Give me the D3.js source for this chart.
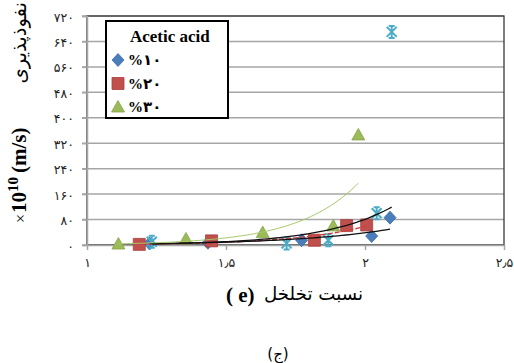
<!DOCTYPE html>
<html><head><meta charset="utf-8">
<script src="https://cdn.jsdelivr.net/npm/d3@7"></script>
<style>body{margin:0;background:#fff}svg{display:block}</style>
</head><body>
<svg id="chart" width="514" height="363"></svg>
<script>
// ---- data ----
const xTicks = [1, 1.5, 2, 2.5];
const xTickLabels = ["۱", "۱٫۵", "۲", "۲٫۵"];
const yTicks = [0, 80, 160, 240, 320, 400, 480, 560, 640, 720];
const yTickLabels = ["۰", "۸۰", "۱۶۰", "۲۴۰", "۳۲۰", "۴۰۰", "۴۸۰", "۵۶۰", "۶۴۰", "۷۲۰"];
const legendTitle = "Acetic acid";
const seriesLabels = ["%۱۰", "%۲۰", "%۳۰"];
const e10 = [1.225, 1.435, 1.772, 2.024, 2.09];
const k10 = [5, 7, 15, 28, 86];
const e20 = [1.188, 1.448, 1.818, 1.934, 2.006];
const k20 = [2, 13, 15, 61, 63];
const e30 = [1.113, 1.356, 1.632, 1.886, 1.976];
const k30 = [3, 19, 39, 60, 346];
const eX = [1.233, 1.718, 1.868, 2.042, 2.096];
const kX = [10, 5, 15, 100, 670];
const xTitleFa = "نسبت تخلخل";
const xTitleEn = "( e)";
const yTitleFa = "نفوذپذیری";
const caption = "(ج)";

// ---- chart ----
const svg = d3.select("#chart");
const x = d3.scaleLinear().domain([1, 2.5]).range([87, 504]);
const y = d3.scaleLinear().domain([0, 720]).range([245, 16]);

// gridlines
svg.append("g").selectAll("line").data(yTicks).join("line")
  .attr("x1", 82).attr("x2", 504)
  .attr("y1", d => y(d)).attr("y2", d => y(d))
  .attr("stroke", "#a6a6a6").attr("stroke-width", 1.5);

// plot border
svg.append("rect").attr("x", 87).attr("y", 16).attr("width", 417).attr("height", 229)
  .attr("fill", "none").attr("stroke", "#3a3a3a").attr("stroke-width", 1.3);

// axes
const yAxis = d3.axisLeft(y).tickValues(yTicks).tickSize(5).tickFormat((d, i) => yTickLabels[i]);
const gy = svg.append("g").attr("transform", "translate(87,0)").call(yAxis);
gy.select(".domain").attr("stroke", "#a6a6a6").attr("stroke-width", 1.5);
gy.selectAll(".tick line").attr("stroke", "#a6a6a6").attr("stroke-width", 1.5);
gy.selectAll(".tick text").attr("font-family", "DejaVu Sans").attr("font-size", 12.5)
  .attr("fill", "#222").attr("x", -13).attr("dy", "0.4em");

const xAxis = d3.axisBottom(x).tickValues(xTicks).tickSize(5).tickSizeOuter(0).tickFormat((d, i) => xTickLabels[i]);
const gx = svg.append("g").attr("transform", "translate(0,245)").call(xAxis);
gx.select(".domain").attr("stroke", "#a6a6a6").attr("stroke-width", 1.5);
gx.selectAll(".tick line").attr("stroke", "#a6a6a6").attr("stroke-width", 1.5);
gx.selectAll(".tick text").attr("font-family", "DejaVu Sans").attr("font-size", 12.5)
  .attr("fill", "#222").attr("y", 13).attr("dy", "0.7em");

// markers
const diamond = "M0,-6.5L6,0L0,6.5L-6,0Z";
const square = "M-6,-6H6V6H-6Z";
const triangle = "M0,-6.5L6.5,5L-6.5,5Z";
const star = "M-5,-5L5,5M-5,5L5,-5M0,-6L0,6M-3,-6L3,-6M-3,6L3,6";

const series = [
  {e: e10, k: k10, path: diamond, fill: "#4a7ebb", stroke: "#3d6ba3", trend: "#111", tw: 1.3, dash: null},
  {e: e20, k: k20, path: square, fill: "#c0504d", stroke: "#a8403d", trend: "#d04040", tw: 1.4, dash: "5,2"},
  {e: e30, k: k30, path: triangle, fill: "#9bbb59", stroke: "#86a548", trend: "#a8c86a", tw: 1, dash: null},
  {e: eX, k: kX, path: star, fill: "none", stroke: "#4bacc6", trend: "#111", tw: 1.3, dash: null, isStar: true}
];

series.forEach(s => {
  const pts = s.e.map((v, i) => [v, s.k[i]]);
  svg.append("g").selectAll("path").data(pts).join("path")
    .attr("transform", d => `translate(${x(d[0])},${y(d[1])})`)
    .attr("d", s.path)
    .attr("fill", s.fill)
    .attr("stroke", s.stroke)
    .attr("stroke-width", s.isStar ? 2 : 0.8);
});

// exponential trendlines (least squares on ln k, as Excel does)
function expFit(xs, ys) {
  const ly = ys.map(Math.log);
  const mx = d3.mean(xs), my = d3.mean(ly);
  let sxy = 0, sxx = 0;
  xs.forEach((v, i) => { sxy += (v - mx) * (ly[i] - my); sxx += (v - mx) * (v - mx); });
  const b = sxy / sxx, a = Math.exp(my - b * mx);
  return t => a * Math.exp(b * t);
}
const line = d3.line().x(d => x(d[0])).y(d => y(d[1]));
[series[1], series[0], series[3], series[2]].forEach(s => {
  const f = expFit(s.e, s.k);
  const [lo, hi] = d3.extent(s.e);
  const samples = d3.range(0, 61).map(i => lo + (hi - lo) * i / 60).map(t => [t, f(t)]);
  svg.append("path").attr("d", line(samples)).attr("fill", "none")
    .attr("stroke", s.trend).attr("stroke-width", s.tw)
    .attr("stroke-dasharray", s.dash);
});

// legend
const lg = svg.append("g");
lg.append("rect").attr("x", 106).attr("y", 21).attr("width", 122).attr("height", 97)
  .attr("fill", "#fff").attr("stroke", "#000").attr("stroke-width", 2);
lg.append("text").attr("x", 130).attr("y", 42).text(legendTitle)
  .attr("font-family", "Liberation Serif").attr("font-weight", "bold").attr("font-size", 17);
const lgPaths = [diamond, square, triangle];
seriesLabels.forEach((lab, i) => {
  const cy = 60 + i * 23.5;
  lg.append("path").attr("transform", `translate(118,${cy})`).attr("d", lgPaths[i])
    .attr("fill", series[i].fill).attr("stroke", series[i].stroke).attr("stroke-width", 0.8);
  lg.append("text").attr("x", 128).attr("y", cy + 5).text(lab)
    .attr("font-family", "Liberation Serif, DejaVu Sans").attr("font-weight", "bold").attr("font-size", 15);
});

// x title
svg.append("text").attr("x", 226).attr("y", 302).text(xTitleEn)
  .attr("font-family", "Liberation Serif").attr("font-weight", "bold").attr("font-size", 21);
const xtFa = svg.append("text").attr("x", 363).attr("y", 300).attr("text-anchor", "end")
  .text(xTitleFa)
  .attr("font-family", "DejaVu Sans").attr("font-size", 15);
const wFa = xtFa.node().getComputedTextLength();
xtFa.attr("font-size", 15 * 99 / wFa);

// y title (rotated)
const yg = svg.append("g").attr("transform", "translate(26,223) rotate(-90)");
let cx = 0;
const t1 = yg.append("text").attr("x", cx).attr("y", 0).text("×")
  .attr("font-family", "Liberation Serif").attr("font-size", 16);
cx += t1.node().getComputedTextLength() + 1;
const t2 = yg.append("text").attr("x", cx).attr("y", 0)
  .attr("font-family", "Liberation Serif").attr("font-weight", "bold").attr("font-size", 21);
t2.append("tspan").text("10");
t2.append("tspan").attr("dy", -8).attr("font-size", 15).text("10");
cx += t2.node().getComputedTextLength() + 4;
const t3 = yg.append("text").attr("x", cx).attr("y", 0).text("(m/s)")
  .attr("font-family", "Liberation Serif").attr("font-weight", "bold").attr("font-size", 21);
cx += t3.node().getComputedTextLength() + 1;
const t4 = yg.append("text").attr("x", 221).attr("y", 0).attr("text-anchor", "end")
  .text(yTitleFa)
  .attr("font-family", "DejaVu Sans").attr("font-size", 14);
const w4 = t4.node().getComputedTextLength();
t4.attr("font-size", 14 * Math.min(1.4, (221 - cx) / w4));

// caption
svg.append("text").attr("x", 278).attr("y", 359).attr("text-anchor", "middle").text(caption)
  .attr("font-family", "DejaVu Sans").attr("font-size", 15);
</script>
</body></html>
